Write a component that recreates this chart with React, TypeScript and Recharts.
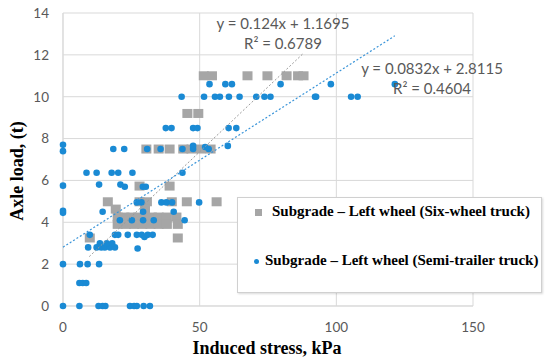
import { CartesianGrid, Scatter, ScatterChart, XAxis, YAxis } from "recharts";

const xTicks = [0, 50, 100, 150];
const yTicks = [0, 2, 4, 6, 8, 10, 12, 14];

// Subgrade – Left wheel (Six-wheel truck)
const sixWheel = [
  { x: 51.5, y: 11 }, { x: 54.5, y: 11 }, { x: 67.5, y: 11 }, { x: 74.8, y: 11 },
  { x: 81.8, y: 11 }, { x: 86, y: 11 }, { x: 88, y: 11 },
  { x: 45.5, y: 9.2 }, { x: 49.5, y: 9.2 },
  { x: 30.5, y: 7.5 }, { x: 35, y: 7.5 }, { x: 39, y: 7.5 }, { x: 44, y: 7.5 },
  { x: 47, y: 7.5 }, { x: 50.5, y: 7.5 }, { x: 54, y: 7.5 },
  { x: 28, y: 5.73 }, { x: 39, y: 5.73 },
  { x: 16.4, y: 4.98 }, { x: 28, y: 4.98 }, { x: 30.7, y: 4.98 }, { x: 39.8, y: 4.98 },
  { x: 45.3, y: 4.98 }, { x: 56.2, y: 4.98 },
  { x: 19.3, y: 4.63 }, { x: 30, y: 4.63 },
  { x: 20, y: 4.25 }, { x: 22.5, y: 4.25 }, { x: 25, y: 4.25 }, { x: 27.5, y: 4.25 },
  { x: 30, y: 4.25 }, { x: 32.5, y: 4.25 }, { x: 35, y: 4.25 }, { x: 38, y: 4.25 },
  { x: 41.5, y: 4.25 },
  { x: 20, y: 3.9 }, { x: 23, y: 3.9 }, { x: 26, y: 3.9 }, { x: 29, y: 3.9 },
  { x: 32, y: 3.9 }, { x: 35, y: 3.9 }, { x: 38, y: 3.9 }, { x: 42, y: 3.9 },
  { x: 9.8, y: 3.25 }, { x: 42, y: 3.25 },
];

// Subgrade – Left wheel (Semi-trailer truck)
const semiTrailer = [
  { x: 0, y: 0 }, { x: 6, y: 0 }, { x: 13, y: 0 }, { x: 14.5, y: 0 }, { x: 15.5, y: 0 },
  { x: 24.5, y: 0 }, { x: 26, y: 0 }, { x: 27, y: 0 }, { x: 29.5, y: 0 }, { x: 31.8, y: 0 },
  { x: 6, y: 1.1 }, { x: 7.2, y: 1.1 }, { x: 8.5, y: 1.1 },
  { x: 0, y: 2 }, { x: 6.2, y: 2 }, { x: 9, y: 2 }, { x: 13.2, y: 2 },
  { x: 9.2, y: 2.8 }, { x: 12.3, y: 2.8 }, { x: 14, y: 2.8 }, { x: 15.3, y: 2.8 },
  { x: 17.2, y: 2.8 }, { x: 19, y: 2.8 }, { x: 27.3, y: 2.75 },
  { x: 13.5, y: 3.0 }, { x: 16, y: 3.0 }, { x: 18, y: 3.0 },
  { x: 9.8, y: 3.4 }, { x: 19, y: 3.4 }, { x: 20.2, y: 3.4 }, { x: 23.7, y: 3.4 },
  { x: 27, y: 3.4 }, { x: 28.8, y: 3.4 }, { x: 29.8, y: 3.3 }, { x: 31, y: 3.4 },
  { x: 32.8, y: 3.4 },
  { x: 20.8, y: 4.1 }, { x: 25.2, y: 4.1 }, { x: 29.3, y: 4.1 }, { x: 33.2, y: 4.1 },
  { x: 44.5, y: 4.1 },
  { x: 0, y: 4.45 }, { x: 0, y: 4.55 }, { x: 14.5, y: 4.5 }, { x: 29.3, y: 4.5 },
  { x: 40.5, y: 4.5 },
  { x: 27, y: 4.95 }, { x: 28.7, y: 4.95 }, { x: 36, y: 4.95 }, { x: 37.8, y: 4.95 },
  { x: 39.9, y: 4.95 }, { x: 49.8, y: 4.95 },
  { x: 0, y: 5.75 }, { x: 13.2, y: 5.8 }, { x: 21, y: 5.8 }, { x: 22.6, y: 5.7 },
  { x: 29.2, y: 5.7 }, { x: 30.3, y: 5.7 },
  { x: 8.6, y: 6.37 }, { x: 12.3, y: 6.37 }, { x: 17.8, y: 6.37 }, { x: 20.2, y: 6.37 },
  { x: 25.4, y: 6.37 }, { x: 43.7, y: 6.37 },
  { x: 0, y: 7.4 }, { x: 0, y: 7.7 },
  { x: 18.4, y: 7.5 }, { x: 22.4, y: 7.5 }, { x: 30.8, y: 7.5 }, { x: 35.7, y: 7.5 },
  { x: 43.7, y: 7.5 }, { x: 47.6, y: 7.5 }, { x: 47.6, y: 7.65 }, { x: 52, y: 7.6 },
  { x: 53.3, y: 7.5 }, { x: 60.3, y: 7.65 },
  { x: 37.6, y: 8.5 }, { x: 39.7, y: 8.5 }, { x: 47.6, y: 8.5 }, { x: 49.2, y: 8.5 },
  { x: 60.6, y: 8.5 }, { x: 63.4, y: 8.5 },
  { x: 43.4, y: 10 }, { x: 51.6, y: 10 }, { x: 55.6, y: 10 }, { x: 57.4, y: 10 },
  { x: 60.7, y: 10 }, { x: 64.6, y: 10 }, { x: 70.7, y: 10 }, { x: 73.7, y: 10 },
  { x: 75.9, y: 10 }, { x: 92.2, y: 10 }, { x: 92.6, y: 10 }, { x: 105.4, y: 10 },
  { x: 107.8, y: 10 },
  { x: 53.6, y: 10.6 }, { x: 59.4, y: 10.6 }, { x: 61.8, y: 10.6 }, { x: 79.6, y: 10.6 },
  { x: 98, y: 10.6 }, { x: 121.4, y: 10.6 },
];

// linear trendline end points
const sixWheelTrend = [{ x: 9.6, y: 2.36 }, { x: 88, y: 12.08 }];
const semiTrailerTrend = [{ x: 0, y: 2.81 }, { x: 121.4, y: 12.91 }];

const GRAY = "#a6a6a6";
const BLUE = "#1a8ad4";
const tickStyle = { fill: "#595959", fontSize: 13.5, fontFamily: "Lato" };
const eqStyle = {
  position: "absolute" as const,
  width: 220,
  textAlign: "center" as const,
  fontFamily: "Lato",
  fontSize: 15,
  lineHeight: "16px",
  color: "#595959",
};
const legendText = {
  fontFamily: "'Liberation Serif'",
  fontWeight: "bold" as const,
  fontSize: 15,
  color: "#000",
  whiteSpace: "nowrap" as const,
};

const Square = (p: any) => (
  <rect x={p.cx - 5} y={p.cy - 4.5} width={10} height={9} fill={GRAY} />
);
const Dot = (p: any) => <circle cx={p.cx} cy={p.cy} r={3.3} fill={BLUE} />;
const Empty = () => <g />;

export default function App() {
  return (
    <div style={{ position: "absolute", left: 0, top: 0, width: 550, height: 362, background: "#fff" }}>
      <ScatterChart width={550} height={362} margin={{ top: 13, right: 77, bottom: 0, left: 0 }}>
        <CartesianGrid stroke="#d9d9d9" />
        <XAxis
          type="number"
          dataKey="x"
          domain={[0, 150]}
          ticks={xTicks}
          height={56}
          tick={tickStyle}
          tickLine={false}
          tickMargin={10}
          axisLine={{ stroke: "#d9d9d9" }}
        />
        <YAxis
          type="number"
          dataKey="y"
          domain={[0, 14]}
          ticks={yTicks}
          width={63}
          tick={tickStyle}
          tickLine={false}
          tickMargin={8}
          axisLine={{ stroke: "#d9d9d9" }}
        />
        <Scatter data={sixWheel} shape={Square} isAnimationActive={false} />
        <Scatter data={semiTrailer} shape={Dot} isAnimationActive={false} />
        <Scatter
          data={sixWheelTrend}
          shape={Empty}
          line={{ stroke: "#9a9a9a", strokeWidth: 1, strokeDasharray: "2 2" }}
          isAnimationActive={false}
        />
        <Scatter
          data={semiTrailerTrend}
          shape={Empty}
          line={{ stroke: "#3b95d9", strokeWidth: 1.2, strokeDasharray: "2 2" }}
          isAnimationActive={false}
        />
      </ScatterChart>

      <div style={{ ...eqStyle, left: 283 - 110, top: 15 }}>y = 0.124x + 1.1695</div>
      <div style={{ ...eqStyle, left: 283 - 110, top: 35 }}>R² = 0.6789</div>
      <div style={{ ...eqStyle, left: 432 - 110, top: 60 }}>y = 0.0832x + 2.8115</div>
      <div style={{ ...eqStyle, left: 432 - 110, top: 80 }}>R² = 0.4604</div>

      <div
        style={{
          position: "absolute",
          left: 237,
          top: 197,
          width: 303,
          height: 94,
          border: "1px solid #d0d0d0",
          background: "#fff",
          boxShadow: "1px 1px 2px rgba(0,0,0,0.15)",
        }}
      >
        <div style={{ position: "absolute", left: 17, top: 11, width: 7, height: 7, background: GRAY }} />
        <div style={{ ...legendText, position: "absolute", left: 34, top: 5 }}>
          Subgrade – Left wheel (Six-wheel truck)
        </div>
        <div style={{ position: "absolute", left: 16, top: 61, width: 5, height: 5, borderRadius: 3, background: BLUE }} />
        <div style={{ ...legendText, position: "absolute", left: 27, top: 54 }}>
          Subgrade – Left wheel (Semi-trailer truck)
        </div>
      </div>

      <div
        style={{
          position: "absolute",
          left: 17,
          top: 171,
          transform: "translate(-50%, -50%) rotate(-90deg)",
          fontFamily: "'Liberation Serif'",
          fontWeight: "bold",
          fontSize: 18,
          whiteSpace: "nowrap",
        }}
      >
        Axle load, (t)
      </div>
      <div
        style={{
          position: "absolute",
          left: 267,
          top: 348,
          transform: "translate(-50%, -50%)",
          fontFamily: "'Liberation Serif'",
          fontWeight: "bold",
          fontSize: 18,
          whiteSpace: "nowrap",
        }}
      >
        Induced stress, kPa
      </div>
    </div>
  );
}
